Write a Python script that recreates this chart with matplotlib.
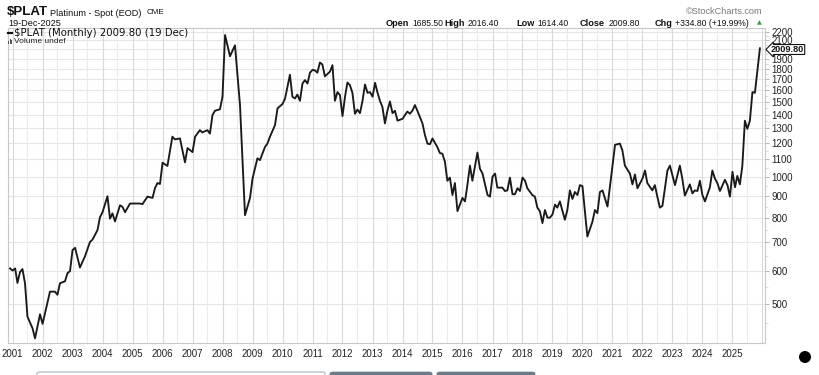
import matplotlib
matplotlib.use("Agg")
import matplotlib.pyplot as plt
import pandas as pd
from matplotlib.patches import Rectangle, Ellipse, FancyBboxPatch
from matplotlib.lines import Line2D

# ---------------- data (monthly closes) ----------------
months = [
    "2000-12", "2001-01", "2001-02", "2001-03", "2001-04", "2001-05", "2001-06", "2001-07",
    "2001-09", "2001-10", "2001-12", "2002-01", "2002-04", "2002-06", "2002-07", "2002-08",
    "2002-10", "2002-11", "2002-12", "2003-01", "2003-02", "2003-04", "2003-06", "2003-08",
    "2003-09", "2003-11", "2003-12", "2004-01", "2004-03", "2004-04", "2004-05", "2004-06",
    "2004-08", "2004-09", "2004-10", "2004-12", "2005-01", "2005-04", "2005-05", "2005-07",
    "2005-09", "2005-10", "2005-11", "2005-12", "2006-01", "2006-03", "2006-05", "2006-06",
    "2006-08", "2006-10", "2006-11", "2007-01", "2007-02", "2007-04", "2007-05", "2007-07",
    "2007-08", "2007-09", "2007-10", "2007-12", "2008-01", "2008-02", "2008-04", "2008-06",
    "2008-07", "2008-08", "2008-10", "2008-12", "2009-01", "2009-03", "2009-04", "2009-06",
    "2009-07", "2009-08", "2009-10", "2009-11", "2010-01", "2010-02", "2010-04", "2010-05",
    "2010-06", "2010-07", "2010-08", "2010-09", "2010-10", "2010-11", "2010-12", "2011-01",
    "2011-02", "2011-03", "2011-04", "2011-05", "2011-06", "2011-08", "2011-09", "2011-10",
    "2011-11", "2011-12", "2012-01", "2012-02", "2012-03", "2012-04", "2012-05", "2012-06",
    "2012-07", "2012-08", "2012-09", "2012-10", "2012-11", "2012-12", "2013-01", "2013-02",
    "2013-03", "2013-04", "2013-05", "2013-06", "2013-07", "2013-08", "2013-09", "2013-10",
    "2013-11", "2014-01", "2014-02", "2014-03", "2014-04", "2014-05", "2014-06", "2014-07",
    "2014-09", "2014-10", "2014-11", "2014-12", "2015-01", "2015-03", "2015-04", "2015-05",
    "2015-06", "2015-07", "2015-08", "2015-09", "2015-10", "2015-11", "2016-01", "2016-02",
    "2016-03", "2016-04", "2016-05", "2016-07", "2016-08", "2016-09", "2016-10", "2016-11",
    "2016-12", "2017-01", "2017-02", "2017-03", "2017-05", "2017-06", "2017-07", "2017-08",
    "2017-09", "2017-10", "2017-11", "2017-12", "2018-01", "2018-02", "2018-03", "2018-05",
    "2018-06", "2018-07", "2018-08", "2018-09", "2018-10", "2018-11", "2018-12", "2019-01",
    "2019-02", "2019-03", "2019-04", "2019-06", "2019-07", "2019-08", "2019-09", "2019-10",
    "2019-11", "2019-12", "2020-01", "2020-03", "2020-05", "2020-06", "2020-07", "2020-08",
    "2020-09", "2020-11", "2021-01", "2021-02", "2021-04", "2021-05", "2021-06", "2021-08",
    "2021-09", "2021-10", "2021-11", "2022-01", "2022-02", "2022-03", "2022-05", "2022-06",
    "2022-07", "2022-08", "2022-09", "2022-11", "2022-12", "2023-02", "2023-04", "2023-05",
    "2023-06", "2023-08", "2023-09", "2023-10", "2023-11", "2023-12", "2024-01", "2024-02",
    "2024-04", "2024-05", "2024-06", "2024-07", "2024-08", "2024-10", "2024-11", "2024-12",
    "2025-01", "2025-02", "2025-03", "2025-04", "2025-05", "2025-06", "2025-07", "2025-08",
    "2025-09", "2025-10", "2025-11", "2025-12",
]
prices = [
    607, 600, 607, 561, 595, 605, 560, 467,
    438, 415, 473, 449, 535, 535, 526, 560,
    566, 592, 598, 671, 679, 610, 648, 701,
    710, 748, 802, 824, 899, 796, 819, 784,
    856, 848, 824, 864, 864, 864, 861, 897,
    891, 940, 966, 961, 1079, 1060, 1243, 1225,
    1231, 1081, 1168, 1143, 1243, 1288, 1272, 1288,
    1264, 1398, 1431, 1443, 1545, 2161, 1925, 2043,
    1741, 1476, 811, 891, 990, 1105, 1094, 1175,
    1197, 1243, 1323, 1450, 1485, 1530, 1741, 1545,
    1530, 1563, 1511, 1660, 1691, 1660, 1760, 1788,
    1782, 1760, 1861, 1841, 1726, 1770, 1834, 1511,
    1584, 1559, 1390, 1545, 1669, 1645, 1578, 1408,
    1440, 1413, 1511, 1651, 1578, 1584, 1545, 1666,
    1583, 1511, 1462, 1336, 1431, 1505, 1413, 1431,
    1356, 1370, 1398, 1425, 1408, 1431, 1476, 1431,
    1336, 1254, 1197, 1193, 1231, 1175, 1137, 1133,
    1085, 978, 995, 905, 966, 829, 891, 874,
    955, 1062, 978, 1140, 1044, 1017, 961, 905,
    897, 1000, 1017, 942, 942, 925, 928, 995,
    909, 909, 939, 925, 995, 978, 939, 905,
    897, 845, 828, 777, 834, 800, 800, 814,
    859, 845, 874, 791, 834, 928, 886, 920,
    905, 955, 950, 722, 782, 834, 820, 920,
    928, 850, 1060, 1189, 1197, 1155, 1062, 1017,
    959, 1012, 939, 990, 1034, 966, 928, 955,
    897, 845, 853, 1034, 1062, 955, 1062, 990,
    902, 959, 913, 928, 925, 978, 905, 874,
    944, 1034, 990, 966, 925, 983, 955, 897,
    1027, 944, 1004, 959, 1060, 1356, 1297, 1356,
    1584, 1578, 1782, 2009.80,
]
y_ticks = [500, 600, 700, 800, 900, 1000, 1100, 1200, 1300, 1400, 1500,
           1600, 1700, 1800, 1900, 2000, 2100, 2200]
y_tick_labels = ["500", "600", "700", "800", "900", "1000", "1100", "1200", "1300",
                 "1400", "1500", "1600", "1700", "1800", "1900", "", "2100", "2200"]
years = list(range(2001, 2026))

W, H = 820, 375
FONT = "Liberation Sans"

def fx(x):
    return x / W

def fy(y):
    return 1 - y / H

fig = plt.figure(figsize=(W / 100, H / 100), dpi=100)
fig.patch.set_facecolor("white")

left, right, top, bottom = 8, 765, 28, 343
ax = fig.add_axes([fx(left), fy(bottom), fx(right) - fx(left), fy(top) - fy(bottom)])

dates = pd.to_datetime(months, format="%Y-%m")
ax.set_yscale("log")
ax.set_ylim(404.6, 2245)
ax.set_xlim(pd.Timestamp("2000-11-06"), pd.Timestamp("2026-02-01"))

# grid
for yv in y_ticks:
    ax.axhline(yv, color="#e6e6e6", lw=0.8, zorder=0)
for yr in range(2001, 2027):
    ax.axvline(pd.Timestamp(f"{yr}-01-01"), color="#d9d9d9", lw=0.8, zorder=0)
    ax.axvline(pd.Timestamp(f"{yr - 1}-07-01"), color="#ebebeb", lw=0.8, zorder=0)

ax.plot(dates, prices, color="#1a1a1a", lw=1.35, zorder=3)

# axes styling
for s in ax.spines.values():
    s.set_color("#c8c8c8")
    s.set_linewidth(0.8)

ax.yaxis.tick_right()
ax.yaxis.set_major_locator(matplotlib.ticker.FixedLocator(y_ticks))
ax.yaxis.set_major_formatter(matplotlib.ticker.FixedFormatter(y_tick_labels))
ax.yaxis.set_minor_locator(matplotlib.ticker.FixedLocator(
    [450, 550, 650, 750, 850, 950, 1050, 1150, 1250, 1350, 1450, 1550, 1650, 1750, 1850, 1950, 2050, 2150]))
ax.yaxis.set_minor_formatter(matplotlib.ticker.NullFormatter())
ax.tick_params(axis="y", which="major", length=3, width=0.6, color="#aaaaaa",
               labelsize=7, labelcolor="#222222", pad=1.5)
ax.tick_params(axis="y", which="minor", length=2, width=0.5, color="#cccccc")
for lab in ax.get_yticklabels():
    lab.set_fontfamily(FONT)

ax.set_xticks([pd.Timestamp(f"{y}-01-01") for y in years])
ax.set_xticklabels([str(y) for y in years], fontfamily=FONT, fontsize=7, color="#222222")
ax.tick_params(axis="x", length=0, pad=4)
ax.xaxis.set_minor_locator(matplotlib.ticker.NullLocator())

# ---------------- header texts ----------------
fig.text(fx(7), fy(12), "$PLAT", fontfamily=FONT, fontweight="bold", fontsize=9.5,
         va="center", ha="left", color="#111111")
fig.text(fx(50), fy(13), "Platinum - Spot (EOD)", fontfamily=FONT, fontsize=6.6,
         va="center", ha="left", color="#111111")
fig.text(fx(147), fy(13), "CME", fontfamily=FONT, fontsize=5.8,
         va="center", ha="left", color="#111111")
fig.text(fx(8), fy(24), "19-Dec-2025", fontfamily=FONT, fontsize=6.6,
         va="center", ha="left", color="#111111")
fig.text(fx(763), fy(11), "\u00a9StockCharts.com", fontfamily=FONT, fontsize=6.6,
         va="center", ha="right", color="#777777")

pieces = [
    (386, "Open", True), (412, "1685.50", False),
    (444, "High", True), (468, "2016.40", False),
    (516, "Low", True), (537, "1614.40", False),
    (580, "Close", True), (609, "2009.80", False),
    (655, "Chg", True), (675, "+334.80 (+19.99%)", False),
]
for xp, txt, bold in pieces:
    fig.text(fx(xp), fy(23), txt, fontfamily=FONT, fontsize=6.6 if bold else 6.2,
             fontweight="bold" if bold else "normal", va="center", ha="left", color="#111111")
fig.text(fx(757), fy(23), "\u25b2", fontfamily="DejaVu Sans", fontsize=4.5,
         va="center", ha="left", color="#2e9e3e")

# legend inside plot
fig.add_artist(Line2D([fx(8), fx(12)], [fy(33), fy(33)], color="#111111", lw=1.6))
fig.text(fx(14), fy(33), "$PLAT (Monthly) 2009.80 (19 Dec)", fontfamily="DejaVu Sans",
         fontsize=7.3, va="center", ha="left", color="#111111")
for i, hgt in enumerate([3, 5, 4]):
    fig.add_artist(Rectangle((fx(8 + i * 1.6), fy(44)), 1.0 / W, hgt / H,
                             color="#555555", lw=0))
fig.text(fx(14), fy(41.5), "Volume undef", fontfamily=FONT, fontsize=6.0,
         va="center", ha="left", color="#222222")

# last price tag
fig.text(fx(771), fy(49.5), "2009.80", fontfamily=FONT, fontsize=6.6, fontweight="bold",
         va="center", ha="left", color="#111111",
         bbox=dict(boxstyle="larrow,pad=0.05", fc="white", ec="#111111", lw=0.8))

# bottom interface fragments
fig.add_artist(FancyBboxPatch((fx(37), fy(378)), fx(288), 6 / H,
                              boxstyle="round,pad=0,rounding_size=0.004",
                              fc="white", ec="#b9c3cc", lw=1.0))
fig.add_artist(FancyBboxPatch((fx(330), fy(378)), fx(102), 6 / H,
                              boxstyle="round,pad=0,rounding_size=0.004",
                              fc="#6b7b88", ec="#6b7b88", lw=0.5))
fig.add_artist(FancyBboxPatch((fx(437), fy(378)), fx(98), 6 / H,
                              boxstyle="round,pad=0,rounding_size=0.004",
                              fc="#6b7b88", ec="#6b7b88", lw=0.5))
fig.add_artist(Ellipse((fx(805), fy(357)), 12 / W, 12 / H, color="black", lw=0))

fig.savefig("out.png", dpi=100, facecolor="white")
